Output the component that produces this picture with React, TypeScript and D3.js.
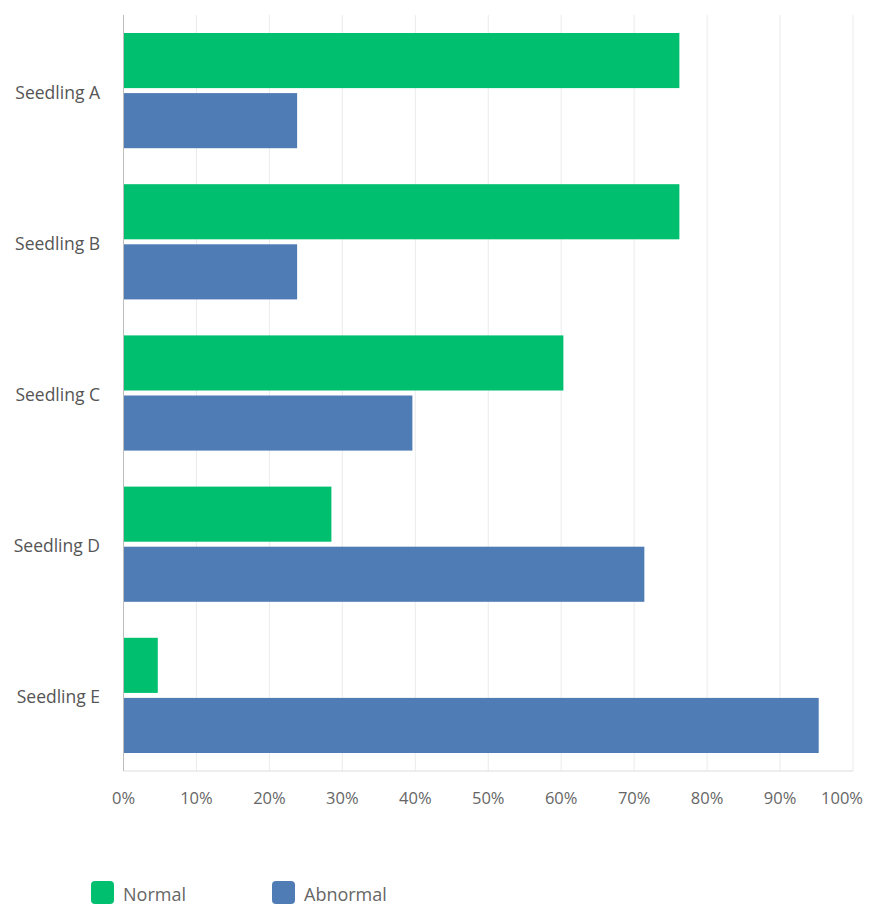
import React from "react";
import * as d3 from "d3";

const categories = ["Seedling A", "Seedling B", "Seedling C", "Seedling D", "Seedling E"];
const seriesNames = ["Normal", "Abnormal"];
const normalValues = [76.2, 76.2, 60.3, 28.5, 4.7];
const abnormalValues = [23.8, 23.8, 39.6, 71.4, 95.3];
const tickValues = [0, 10, 20, 30, 40, 50, 60, 70, 80, 90, 100];
const colors = ["#00BF6F", "#507CB6"];

const W = 871;
const H = 906;
const M = { left: 123.5, right: 18, top: 15, bottom: 135 };
const FONT = "'Open Sans', 'Noto Sans', sans-serif";

export default function App() {
  const x = d3.scaleLinear().domain([0, 100]).range([M.left, W - M.right]);
  const y = d3
    .scaleBand<string>()
    .domain(categories)
    .range([M.top, H - M.bottom])
    .paddingInner(0.238)
    .paddingOuter(0.119);
  const sub = d3.scaleBand<string>().domain(seriesNames).range([0, y.bandwidth()]).paddingInner(0.083);
  const series = [normalValues, abnormalValues];
  const plotBottom = H - M.bottom;
  const lastTick = tickValues[tickValues.length - 1];

  return (
    <svg width={W} height={H} style={{ position: "absolute", left: 0, top: 0, background: "#fff" }}>
      {tickValues.slice(1).map((t) => (
        <line key={t} x1={x(t)} x2={x(t)} y1={M.top} y2={plotBottom} stroke="#ebebeb" strokeWidth={1} />
      ))}
      <line x1={M.left} x2={x(100)} y1={plotBottom} y2={plotBottom} stroke="#dcdcdc" strokeWidth={1} />
      {categories.map((c, i) => (
        <g key={c}>
          {seriesNames.map((s, j) => (
            <rect
              key={s}
              x={x(0)}
              y={(y(c) as number) + (sub(s) as number)}
              width={x(series[j][i]) - x(0)}
              height={sub.bandwidth()}
              fill={colors[j]}
            />
          ))}
          <text
            x={100}
            y={(y(c) as number) + y.bandwidth() / 2 + 1}
            textAnchor="end"
            dominantBaseline="central"
            fontFamily={FONT}
            fontSize={17.5}
            fill="#555"
          >
            {c}
          </text>
        </g>
      ))}
      <line x1={M.left} x2={M.left} y1={M.top} y2={plotBottom} stroke="#bdbdbd" strokeWidth={1} />
      {tickValues.map((t) => (
        <text
          key={t}
          x={t === lastTick ? W - 8 : x(t)}
          y={plotBottom + 26}
          textAnchor={t === lastTick ? "end" : "middle"}
          dominantBaseline="central"
          fontFamily={FONT}
          fontSize={16.5}
          fill="#666"
        >
          {t + "%"}
        </text>
      ))}
      {seriesNames.map((s, j) => (
        <g key={s} transform={`translate(${91 + j * 181},${881})`}>
          <rect width={23} height={23} rx={4} fill={colors[j]} />
          <text x={32} y={12.5} dominantBaseline="central" fontFamily={FONT} fontSize={18} fill="#666">
            {s}
          </text>
        </g>
      ))}
    </svg>
  );
}
